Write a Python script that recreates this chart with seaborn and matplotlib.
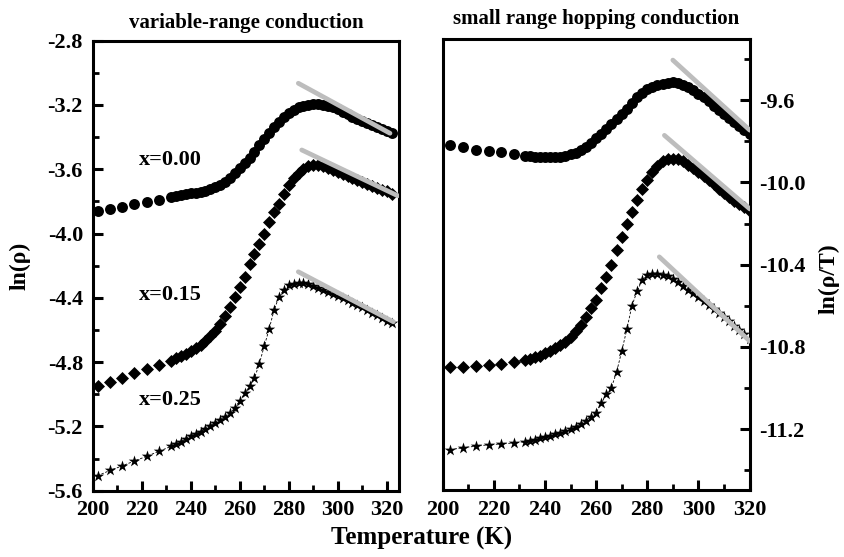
import matplotlib
matplotlib.use("Agg")
import matplotlib.pyplot as plt
import seaborn as sns
from matplotlib.ticker import MultipleLocator

# ---------------- data ----------------
# left panel: ln(rho) vs T   (variable-range conduction)
T_left = [202, 207, 212, 217, 222, 227,
          232, 234, 236, 238, 240, 242, 244, 246, 248, 250, 252, 254, 256, 258,
          260, 262, 264, 266, 268, 270, 272, 274, 276, 278, 280, 282, 284, 286,
          288, 290, 292, 294, 296, 298, 300, 302, 304, 306, 308, 310, 312, 314,
          316, 318, 320, 322]
lnrho_x000 = [-3.862, -3.847, -3.833, -3.819, -3.805, -3.790,
              -3.770, -3.765, -3.760, -3.755, -3.750, -3.745, -3.740, -3.733, -3.725, -3.713,
              -3.698, -3.680, -3.655, -3.625, -3.595, -3.562, -3.527, -3.490, -3.452, -3.414,
              -3.376, -3.340, -3.306, -3.275, -3.250, -3.230, -3.215, -3.205, -3.199, -3.196,
              -3.196, -3.199, -3.206, -3.215, -3.228, -3.243, -3.258, -3.272, -3.286, -3.299,
              -3.312, -3.325, -3.338, -3.350, -3.362, -3.372]
lnrho_x015 = [-4.950, -4.925, -4.897, -4.869, -4.842, -4.817,
              -4.790, -4.775, -4.762, -4.748, -4.733, -4.715, -4.694, -4.668, -4.638, -4.605,
              -4.565, -4.510, -4.455, -4.395, -4.333, -4.268, -4.190, -4.125, -4.065, -4.000,
              -3.930, -3.867, -3.815, -3.755, -3.700, -3.655, -3.622, -3.598, -3.582, -3.574,
              -3.574, -3.580, -3.590, -3.604, -3.618, -3.630, -3.642, -3.654, -3.666, -3.678,
              -3.690, -3.702, -3.714, -3.726, -3.738, -3.752]
lnrho_x025 = [-5.507, -5.474, -5.446, -5.415, -5.386, -5.355,
              -5.324, -5.312, -5.296, -5.279, -5.262, -5.248, -5.232, -5.216, -5.198, -5.178,
              -5.160, -5.140, -5.118, -5.085, -5.040, -4.995, -4.950, -4.900, -4.810, -4.700,
              -4.595, -4.475, -4.395, -4.350, -4.323, -4.312, -4.308, -4.310, -4.316, -4.325,
              -4.336, -4.349, -4.363, -4.377, -4.390, -4.403, -4.416, -4.430, -4.445, -4.460,
              -4.476, -4.492, -4.509, -4.526, -4.542, -4.558]
# straight-line fits (grey), left panel: [start, end]
fitL_T_x000 = [283.9, 321.3]
fitL_v_x000 = [-3.065, -3.376]
fitL_T_x015 = [285.3, 324.5]
fitL_v_x015 = [-3.480, -3.765]
fitL_T_x025 = [283.9, 322.7]
fitL_v_x025 = [-4.238, -4.549]

# right panel: ln(rho/T) vs T   (small range hopping conduction)
T_right = [203, 208, 213, 218, 223, 228,
           232, 234, 236, 238, 240, 242, 244, 246, 248, 250, 252, 254, 256, 258,
           260, 262, 264, 266, 268, 270, 272, 274, 276, 278, 280, 282, 284, 286,
           288, 290, 292, 294, 296, 298, 300, 302, 304, 306, 308, 310, 312, 314,
           316, 318, 320]
lnrhoT_x000 = [-9.820, -9.830, -9.840, -9.848, -9.853, -9.860,
               -9.870, -9.873, -9.875, -9.876, -9.877, -9.877, -9.876, -9.874, -9.870, -9.864,
               -9.855, -9.843, -9.826, -9.806, -9.785, -9.763, -9.742, -9.718, -9.693, -9.668,
               -9.641, -9.612, -9.585, -9.563, -9.547, -9.535, -9.525, -9.519, -9.515, -9.514,
               -9.517, -9.524, -9.535, -9.550, -9.568, -9.586, -9.606, -9.626, -9.646, -9.666,
               -9.686, -9.706, -9.726, -9.746, -9.766]
lnrhoT_x015 = [-10.900, -10.900, -10.895, -10.890, -10.884, -10.875,
               -10.865, -10.858, -10.851, -10.842, -10.831, -10.820, -10.806, -10.790, -10.776, -10.752,
               -10.725, -10.693, -10.655, -10.612, -10.572, -10.515, -10.458, -10.400, -10.327, -10.265,
               -10.202, -10.145, -10.085, -10.032, -9.990, -9.950, -9.918, -9.898, -9.887, -9.884,
               -9.888, -9.898, -9.913, -9.930, -9.950, -9.970, -9.990, -10.010, -10.030, -10.050,
               -10.069, -10.088, -10.105, -10.121, -10.137]
lnrhoT_x025 = [-11.300, -11.290, -11.283, -11.276, -11.272, -11.267,
               -11.261, -11.256, -11.251, -11.245, -11.239, -11.233, -11.226, -11.218, -11.210, -11.201,
               -11.190, -11.176, -11.158, -11.140, -11.120, -11.075, -11.030, -10.998, -10.922, -10.822,
               -10.715, -10.600, -10.530, -10.475, -10.452, -10.445, -10.445, -10.449, -10.455, -10.470,
               -10.486, -10.503, -10.521, -10.540, -10.559, -10.578, -10.597, -10.617, -10.637, -10.656,
               -10.676, -10.696, -10.716, -10.738, -10.760]
fitR_T_x000 = [290.0, 320.1]
fitR_v_x000 = [-9.405, -9.746]
fitR_T_x015 = [286.7, 320.1]
fitR_v_x015 = [-9.771, -10.129]
fitR_T_x025 = [284.7, 320.1]
fitR_v_x025 = [-10.362, -10.772]

series_labels = ["x=0.00", "x=0.15", "x=0.25"]
label_T = [219.0, 219.0, 219.0]
label_v = [-3.54, -4.38, -5.035]
titles = ["variable-range conduction", "small range hopping conduction"]
left_yticks = [-5.6, -5.2, -4.8, -4.4, -4.0, -3.6, -3.2, -2.8]
right_yticks = [-11.2, -10.8, -10.4, -10.0, -9.6]

# ---------------- style ----------------
sns.set_style("ticks")
plt.rcParams["font.family"] = ["Liberation Serif", "DejaVu Serif"]
plt.rcParams["font.weight"] = "bold"
plt.rcParams["axes.unicode_minus"] = False
plt.rcParams["axes.edgecolor"] = "black"
plt.rcParams["xtick.color"] = "black"
plt.rcParams["ytick.color"] = "black"
plt.rcParams["text.color"] = "black"
plt.rcParams["axes.labelcolor"] = "black"

fig = plt.figure(figsize=(8.44, 5.57), dpi=100)
axL = fig.add_axes([0.1098, 0.119, 0.3630, 0.808])
axR = fig.add_axes([0.5245, 0.1203, 0.3636, 0.8091])

grey = "#bdbdbd"


def draw_panel(ax, T, ys, fits):
    v0, v1, v2 = ys
    sns.scatterplot(x=T, y=v0, ax=ax, marker="o", s=62, color="black",
                    edgecolor="black", linewidth=0, zorder=3)
    sns.scatterplot(x=T, y=v1, ax=ax, marker="D", s=44, color="black",
                    edgecolor="black", linewidth=0, zorder=3)
    sns.lineplot(x=T, y=v2, ax=ax, color="black", lw=0.6, linestyle=(0, (3, 2)),
                 sort=False, zorder=2)
    sns.scatterplot(x=T, y=v2, ax=ax, marker="*", s=75, color="black",
                    edgecolor="black", linewidth=0, zorder=3)
    for fT, fv in fits:
        sns.lineplot(x=fT, y=fv, ax=ax, color=grey, lw=3.4, sort=False,
                     zorder=4, solid_capstyle="round")


draw_panel(axL, T_left, [lnrho_x000, lnrho_x015, lnrho_x025],
           [(fitL_T_x000, fitL_v_x000), (fitL_T_x015, fitL_v_x015),
            (fitL_T_x025, fitL_v_x025)])
draw_panel(axR, T_right, [lnrhoT_x000, lnrhoT_x015, lnrhoT_x025],
           [(fitR_T_x000, fitR_v_x000), (fitR_T_x015, fitR_v_x015),
            (fitR_T_x025, fitR_v_x025)])

# axes limits / ticks
axL.set_xlim(200, 325)
axL.set_ylim(-5.6, -2.8)
axR.set_xlim(200, 320)
axR.set_ylim(-11.496, -9.304)

for ax in (axL, axR):
    ax.xaxis.set_major_locator(MultipleLocator(20))
    ax.xaxis.set_minor_locator(MultipleLocator(10))
    ax.yaxis.set_minor_locator(MultipleLocator(0.2))
    for s in ax.spines.values():
        s.set_linewidth(2.2)
        s.set_color("black")
        s.set_visible(True)
    ax.tick_params(which="major", direction="in", length=7, width=2.2,
                   labelsize=16, pad=7, color="black")
    ax.tick_params(which="minor", direction="in", length=4, width=2.0,
                   color="black")
    ax.set_xlabel("")
    ax.set_ylabel("")

axL.set_yticks(left_yticks)
axL.tick_params(axis="y", which="both", left=True, right=False)
axL.tick_params(axis="x", which="both", top=False, bottom=True)

axR.set_yticks(right_yticks)
axR.yaxis.tick_right()
axR.tick_params(axis="y", which="both", left=False, right=True,
                labelleft=False, labelright=True)
axR.tick_params(axis="x", which="both", top=False, bottom=True)

axL.set_yticklabels(["%.1f" % v for v in left_yticks], fontweight="bold")
axR.set_yticklabels(["%.1f" % v for v in right_yticks], fontweight="bold")
axL.set_xticklabels(["%d" % v for v in axL.get_xticks()], fontweight="bold")
axR.set_xticklabels(["%d" % v for v in axR.get_xticks()], fontweight="bold")
axL.set_xlim(200, 325)
axR.set_xlim(200, 320)

axL.set_title(titles[0], fontsize=15, fontweight="bold", pad=9)
axR.set_title(titles[1], fontsize=15, fontweight="bold", pad=11)

for lab, tx, ty in zip(series_labels, label_T, label_v):
    axL.text(tx, ty, lab, fontsize=16, fontweight="bold", ha="left", va="center")

fig.text(0.024, 0.522, "ln(ρ)", rotation=90, fontsize=17, fontweight="bold",
         ha="center", va="center")
fig.text(0.982, 0.50, "ln(ρ/T)", rotation=90, fontsize=17, fontweight="bold",
         ha="center", va="center")
fig.text(0.50, 0.034, "Temperature (K)", fontsize=18, fontweight="bold",
         ha="center", va="center")

fig.savefig("out.png", dpi=100)
